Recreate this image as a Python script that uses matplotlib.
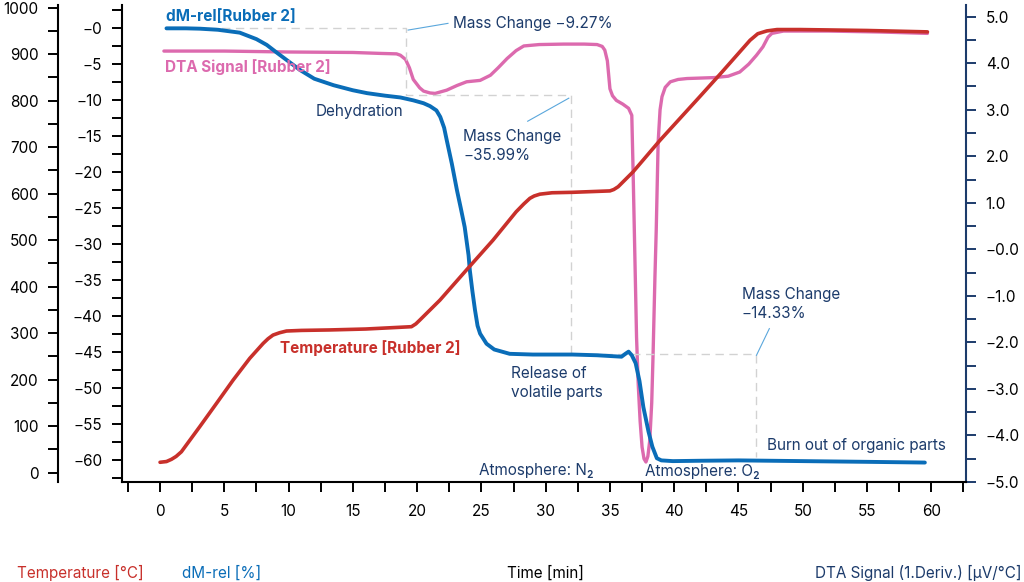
"""
Rubber 2 TGA/DTA chart - temperature, mass change (dM-rel) and DTA signal over time
"""
import numpy as np
import matplotlib
matplotlib.use('Agg')
import matplotlib.pyplot as plt
from matplotlib.ticker import MultipleLocator, FixedLocator

plt.rcParams['font.family'] = ['Inter', 'DejaVu Sans']

# ── data ─────────────────────────────────────────────────────
temp_t = [0.0, 0.5, 0.89, 1.25, 1.66, 3.09, 4.39, 5.68, 6.98, 8.02, 8.4, 8.79, 9.3, 9.84, 11.0,
          13.2, 16.0, 18.65, 19.56, 19.9, 20.2, 21.77, 23.84, 25.9, 27.7, 28.3, 28.77, 29.1, 29.55,
          30.5, 32.1, 35.0, 35.3, 35.64, 36.8, 38.9, 42.0, 43.6, 45.9, 46.5, 47.2, 48.0, 49.8,
          55.0, 59.7]
temp_c = [22.4, 24, 28.8, 35, 45, 99, 149, 199, 246, 278, 288, 296, 301, 304.7, 306,
          307, 309, 312.7, 314, 320, 328, 371, 436, 500, 561, 578, 590, 595, 599,
          602, 603, 606, 609, 615, 647, 715, 809, 858, 930, 944, 950, 953, 953,
          951, 948]

dm_t = [0.5, 2.0, 3.1, 4.5, 6.2, 7.5, 8.3, 9.1, 10.0, 10.9, 12.0, 13.5, 15.0, 16.1, 17.5, 18.7,
        19.7, 20.5, 21.0, 21.5, 21.8, 22.1, 22.3, 22.7, 23.1, 23.4, 23.7, 24.0, 24.1, 24.3,
        24.5, 24.7, 24.9, 25.4, 26.0, 27.2, 29.0, 32.1, 34.0, 35.9, 36.2, 36.45, 36.7, 37.0,
        37.3, 37.6, 38.0, 38.3, 38.65, 39.0, 39.9, 42.0, 45.0, 50.0, 55.0, 59.5]
dm_rel = [0.0, 0.0, -0.05, -0.2, -0.6, -1.5, -2.3, -3.4, -4.6, -5.8, -7.0, -7.9, -8.6, -9.0, -9.35, -9.6,
          -10.0, -10.4, -10.8, -11.4, -12.3, -13.8, -15.5, -18.8, -22.5, -25.0, -27.6, -31.5, -33.6, -36.5,
          -39.1, -41.3, -42.4, -43.8, -44.6, -45.2, -45.3, -45.3, -45.4, -45.6, -45.2, -44.9, -45.4, -46.5,
          -49.0, -52.6, -56.0, -58.1, -59.7, -60.0, -60.1, -60.05, -60.0, -60.1, -60.2, -60.3]

dta_t = [0.3, 5.0, 10.0, 15.0, 17.1, 18.4, 18.7, 19.1, 19.4, 19.7, 20.2, 20.5, 21.0, 21.4, 22.3,
         23.1, 23.85, 24.9, 25.7, 26.3, 27.0, 27.7, 28.3, 29.5, 31.4, 33.0, 34.0, 34.4, 34.6, 34.8,
         35.0, 35.2, 35.5, 36.0, 36.45, 36.7, 36.8, 37.07, 37.2, 37.35, 37.5, 37.65, 37.8,
         37.95, 38.1, 38.25, 38.35, 38.5, 38.6, 38.75, 38.9, 39.05, 39.3, 39.7, 40.3, 41.0, 43.1,
         44.2, 45.1, 45.8, 46.4, 46.9, 47.3, 47.6, 48.5, 52.0, 56.0, 59.7]
dta_sig = [4.26, 4.26, 4.24, 4.23, 4.21, 4.2, 4.17, 4.08, 3.9, 3.65, 3.47, 3.40, 3.36, 3.35, 3.42,
           3.52, 3.6, 3.63, 3.74, 3.9, 4.1, 4.27, 4.37, 4.40, 4.41, 4.41, 4.40, 4.36, 4.28, 4.05,
           3.45, 3.3, 3.2, 3.12, 3.03, 2.88, 1.7, -1.89, -2.9, -3.7, -4.25, -4.5, -4.57,
           -4.45, -4.1, -3.3, -2.32, -0.6, 0.4, 2.3, 3.0, 3.28, 3.48, 3.6, 3.65, 3.67, 3.69,
           3.72, 3.81, 3.98, 4.17, 4.35, 4.56, 4.64, 4.69, 4.69, 4.67, 4.64]

# mass-change steps (dashed staircase)
step_t = [0.5, 19.12, 19.12, 32.0, 32.0, 46.4, 46.4]
step_dm = [0.0, 0.0, -9.27, -9.27, -45.26, -45.26, -59.59]

c_red = '#C8302B'
c_blue = '#0A6DB8'
c_pink = '#DC6AAE'
c_navy = '#1C3B6B'
c_grey = '#D2D2D2'
c_lead = '#5AA7DC'

# ── figure ───────────────────────────────────────────────────
fig = plt.figure(figsize=(10.24, 5.82), dpi=100)
ax = fig.add_axes([122 / 1024, 1 - 482 / 582, (966 - 122) / 1024, (482 - 5) / 582])  # DTA (right)
ax_m = ax.twinx()   # dM-rel (inner left)
ax_t = ax.twinx()   # temperature (outer left)

ax.set_xlim(-2.96, 62.7)
ax.set_ylim(-5.0, 5.25)
ax_m.set_ylim(-63.0, 3.24)
ax_t.set_ylim(-20.0, 1005.8)

tick_kw = dict(length=7.2, width=1.4, labelsize=11)

# x axis
ax.xaxis.set_minor_locator(FixedLocator(np.arange(-2.5, 63, 5)))
ax.set_xticks(np.arange(0, 61, 5))
ax.tick_params(axis='x', which='both', direction='out', pad=9, **tick_kw)

# DTA axis on the right
ax.yaxis.tick_right()
ax.set_yticks(np.arange(-5, 5.01, 1.0))
ax.set_yticklabels([('−' if v <= 0 else '') + f'{abs(v):.1f}' for v in np.arange(-5, 5.01, 1.0)])
ax.yaxis.set_minor_locator(MultipleLocator(0.5))
ax.tick_params(axis='y', which='both', direction='out', pad=7, color=c_navy, **tick_kw)

# dM axis on the inner left
ax_m.yaxis.tick_left()
ax_m.set_yticks(np.arange(-60, 0.1, 5))
ax_m.set_yticklabels(['−' + str(abs(int(v))) for v in np.arange(-60, 0.1, 5)])
ax_m.yaxis.set_minor_locator(MultipleLocator(2.5))
ax_m.tick_params(axis='y', which='both', direction='out', pad=7, **tick_kw)

# temperature axis on the outer left
ax_t.yaxis.tick_left()
ax_t.spines['left'].set_position(('outward', 46))
ax_t.set_yticks(np.arange(0, 1001, 100))
ax_t.yaxis.set_minor_locator(MultipleLocator(50))
ax_t.tick_params(axis='y', which='both', direction='out', pad=7, **tick_kw)

for a in (ax, ax_m, ax_t):
    a.spines['top'].set_visible(False)
    for s in a.spines.values():
        s.set_linewidth(1.5)
ax.spines['left'].set_visible(False)
ax.spines['right'].set_color(c_navy)
ax_m.spines['right'].set_visible(False)
ax_m.spines['bottom'].set_visible(False)
ax_t.spines['right'].set_visible(False)
ax_t.spines['bottom'].set_visible(False)

# ── curves ───────────────────────────────────────────────────
ax_m.plot(step_t, step_dm, color=c_grey, lw=1.0, ls=(0, (6, 4)), zorder=1)
ax.plot(dta_t, dta_sig, color=c_pink, lw=2.4, solid_capstyle='round', zorder=3)
ax_m.plot(dm_t, dm_rel, color=c_blue, lw=2.8, solid_capstyle='round', zorder=3)
ax_t.plot(temp_t, temp_c, color=c_red, lw=2.6, solid_capstyle='round', zorder=3)

# leader lines for the mass-change notes
ax_m.plot([19.3, 22.4], [-0.24, 0.69], color=c_lead, lw=0.8)
ax_m.plot([28.6, 31.8], [-12.9, -9.7], color=c_lead, lw=0.8)
ax_m.plot([46.4, 47.4], [-45.4, -41.7], color=c_lead, lw=0.8)

# ── texts ────────────────────────────────────────────────────
fs = 11
ax_m.text(0.5, 1.6, 'dM-rel[Rubber 2]', color=c_blue, fontsize=fs, fontweight='bold', va='center')
ax_m.text(0.37, -5.33, 'DTA Signal [Rubber 2]', color=c_pink, fontsize=fs, fontweight='bold', va='center')
ax_m.text(9.3, -44.4, 'Temperature [Rubber 2]', color=c_red, fontsize=fs, fontweight='bold', va='center')
ax_m.text(12.1, -11.5, 'Dehydration', color=c_navy, fontsize=fs, va='center')
ax_m.text(22.8, 0.7, 'Mass Change −9.27%', color=c_navy, fontsize=fs, va='center')
ax_m.text(23.6, -16.3, 'Mass Change\n−35.99%', color=c_navy, fontsize=fs, va='center', linespacing=1.35)
ax_m.text(45.25, -38.3, 'Mass Change\n−14.33%', color=c_navy, fontsize=fs, va='center', linespacing=1.35)
ax_m.text(27.3, -49.3, 'Release of\nvolatile parts', color=c_navy, fontsize=fs, va='center', linespacing=1.35)
ax_m.text(24.8, -61.35, 'Atmosphere: N₂', color=c_navy, fontsize=fs, va='center')
ax_m.text(37.7, -61.5, 'Atmosphere: O₂', color=c_navy, fontsize=fs, va='center')
ax_m.text(47.2, -58.0, 'Burn out of organic parts', color=c_navy, fontsize=fs, va='center')

# axis captions along the bottom
fig.text(17 / 1024, 1 - 572.7 / 582, 'Temperature [°C]', color=c_red, fontsize=fs, va='center')
fig.text(181.7 / 1024, 1 - 572.7 / 582, 'dM-rel [%]', color=c_blue, fontsize=fs, va='center')
fig.text(506.7 / 1024, 1 - 572.7 / 582, 'Time [min]', color='black', fontsize=fs, va='center')
fig.text(1021.7 / 1024, 1 - 572.7 / 582, 'DTA Signal (1.Deriv.) [µV/°C]', color=c_navy, fontsize=fs,
         va='center', ha='right')

fig.savefig('out.png', dpi=100)
